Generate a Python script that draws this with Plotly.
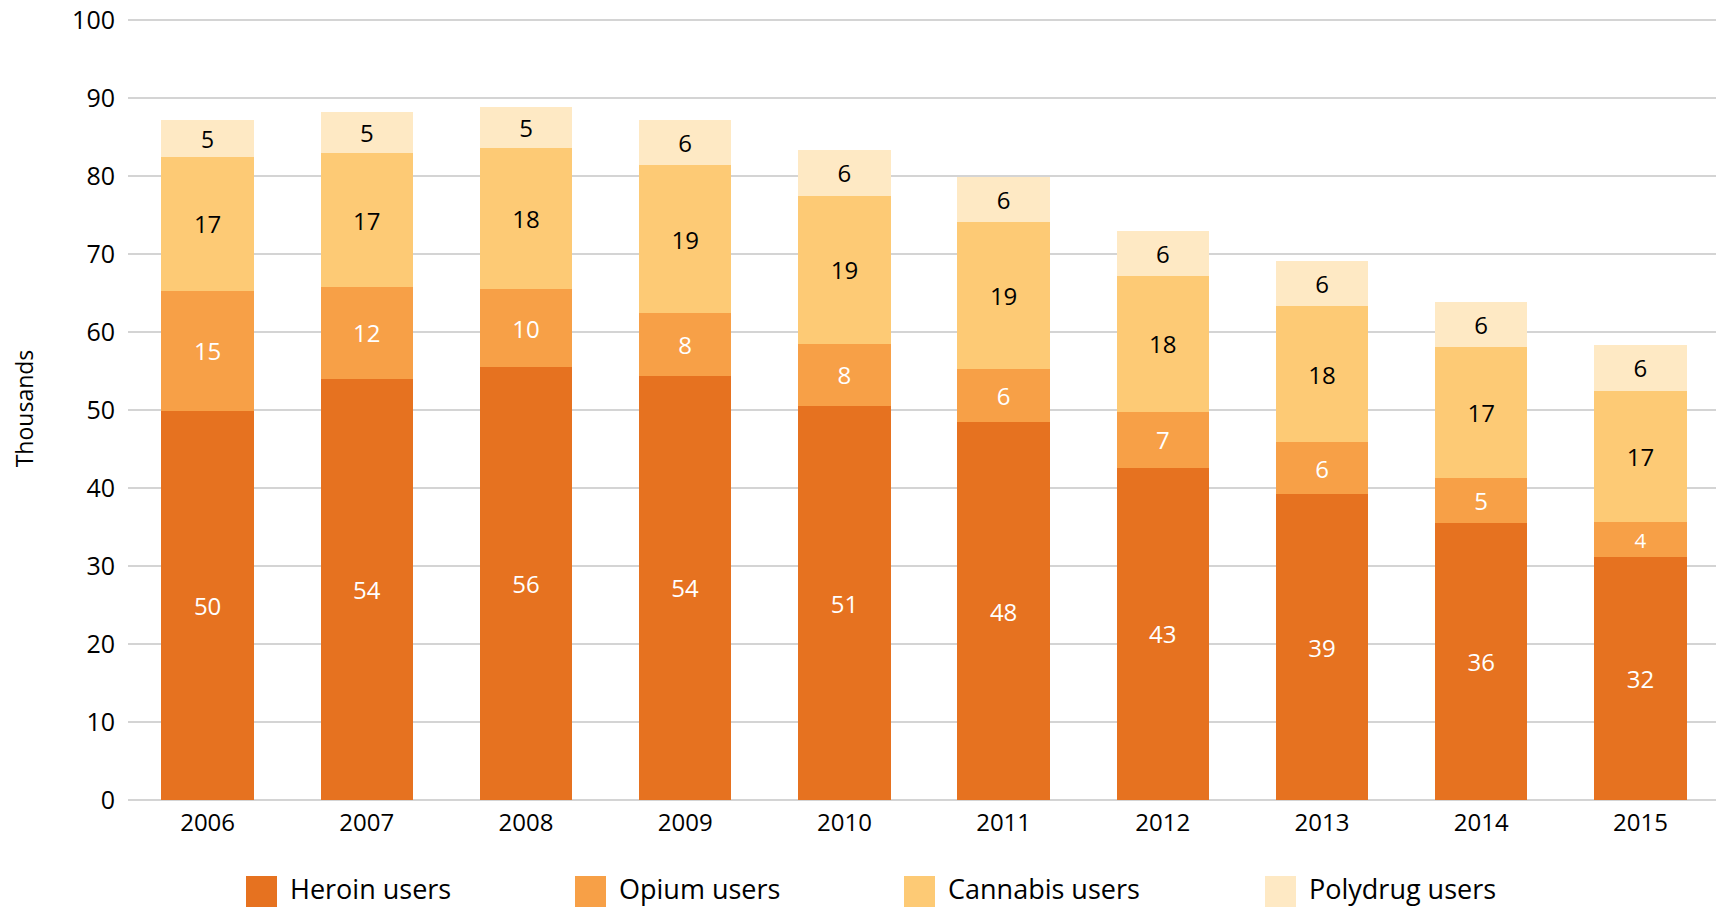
import plotly.graph_objects as go

years = ["2006", "2007", "2008", "2009", "2010", "2011", "2012", "2013", "2014", "2015"]
heroin = [49.9, 54.0, 55.5, 54.4, 50.5, 48.4, 42.6, 39.2, 35.5, 31.2]
opium = [15.4, 11.8, 10.0, 8.0, 8.0, 6.8, 7.2, 6.7, 5.8, 4.4]
cannabis = [17.1, 17.1, 18.1, 19.0, 19.0, 18.9, 17.4, 17.4, 16.8, 16.9]
polydrug = [4.8, 5.3, 5.2, 5.8, 5.8, 5.8, 5.8, 5.8, 5.8, 5.8]

heroin_labels = [50, 54, 56, 54, 51, 48, 43, 39, 36, 32]
opium_labels = [15, 12, 10, 8, 8, 6, 7, 6, 5, 4]
cannabis_labels = [17, 17, 18, 19, 19, 19, 18, 18, 17, 17]
polydrug_labels = [5, 5, 5, 6, 6, 6, 6, 6, 6, 6]

names = ["Heroin users", "Opium users", "Cannabis users", "Polydrug users"]
colors = ["#E67220", "#F7A047", "#FDCA75", "#FEE9C4"]
text_colors = ["white", "white", "black", "black"]

FONT = "Open Sans"
series = [heroin, opium, cannabis, polydrug]
labels = [heroin_labels, opium_labels, cannabis_labels, polydrug_labels]

fig = go.Figure()
for vals, labs, name, col, tc in zip(series, labels, names, colors, text_colors):
    fig.add_trace(go.Bar(
        x=years, y=vals, name=name,
        marker=dict(color=col, line=dict(width=0)),
        text=[str(v) for v in labs],
        textposition="inside", insidetextanchor="middle", textangle=0,
        textfont=dict(color=tc, size=24, family=FONT),
        showlegend=False, hoverinfo="skip",
    ))

PAGE_W, PAGE_H = 1716, 909
M_L, M_R, M_T, M_B = 128, 0, 17, 109
PLOT_W = PAGE_W - M_L - M_R
PLOT_H = PAGE_H - M_T - M_B
Y_BOTTOM = PAGE_H - M_B
Y_PX_PER_UNIT = (Y_BOTTOM - 20) / 100.0
SPACING = 159.2

def px_x(x):
    return (x - M_L) / PLOT_W

def px_y(y):
    return (Y_BOTTOM - y) / PLOT_H

# custom legend (large square swatches)
legend_sq_x = [246, 575, 904, 1265]
for i, (name, col) in enumerate(zip(names, colors)):
    fig.add_shape(type="rect", xref="paper", yref="paper",
                  x0=px_x(legend_sq_x[i]), x1=px_x(legend_sq_x[i] + 31),
                  y0=px_y(876), y1=px_y(907),
                  fillcolor=col, line=dict(width=0))
    fig.add_annotation(xref="paper", yref="paper", x=px_x(legend_sq_x[i] + 43),
                       y=px_y(889), text=name, showarrow=False,
                       xanchor="left", yanchor="middle", borderpad=0,
                       font=dict(size=27, color="black", family=FONT))

fig.update_layout(
    width=PAGE_W, height=PAGE_H,
    barmode="stack", bargap=0.42,
    paper_bgcolor="white", plot_bgcolor="white",
    margin=dict(l=M_L, r=M_R, t=M_T, b=M_B),
    font=dict(family=FONT, color="black"),
)
fig.update_yaxes(range=[0, PLOT_H / Y_PX_PER_UNIT], tickvals=list(range(0, 101, 10)),
                 showgrid=True, gridcolor="#d4d4d4", gridwidth=1.5,
                 zeroline=True, zerolinecolor="#d4d4d4", zerolinewidth=1.5,
                 tickfont=dict(size=25, family=FONT, color="black"), ticklabelstandoff=12,
                 title=dict(text="Thousands", font=dict(size=23, family=FONT, color="black"), standoff=32),
                 fixedrange=True)
fig.update_xaxes(range=[-0.5, PLOT_W / SPACING - 0.5],
                 showgrid=False, showline=False, tickfont=dict(size=24, family=FONT, color="black"),
                 ticklabelstandoff=6, fixedrange=True)

fig.write_html("out.html", config={"displayModeBar": False},
               post_script="document.body.style.margin='0';document.body.style.overflow='hidden';")
